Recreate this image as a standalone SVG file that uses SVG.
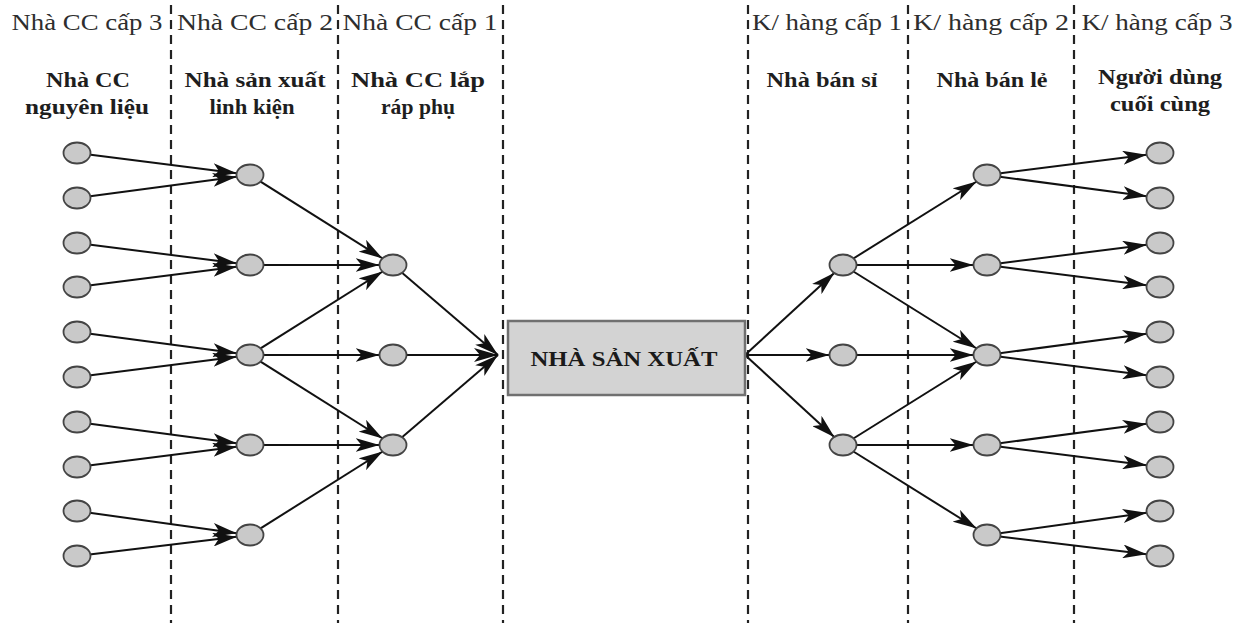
<svg xmlns="http://www.w3.org/2000/svg" width="1239" height="623" viewBox="0 0 1239 623">
<style>
.bg{fill:#ffffff}
.div{stroke:#222;stroke-width:2.2;stroke-dasharray:9 6;fill:none}
.hdr{font-family:"Liberation Serif","Times New Roman",serif;font-size:23px;fill:#2e2e2e;text-anchor:middle}
.sub{font-family:"Liberation Serif","Times New Roman",serif;font-size:21px;font-weight:bold;fill:#1e1e1e;text-anchor:middle}
.nd{fill:#c9c9c9;stroke:#444;stroke-width:1.8}
.box{fill:#d3d3d3;stroke:#707070;stroke-width:2.5}
.boxt{font-family:"Liberation Serif","Times New Roman",serif;font-size:22px;font-weight:bold;fill:#1a1a1a;text-anchor:middle}
.e{stroke:#111;stroke-width:2;fill:none;marker-end:url(#ah)}
</style>
<defs>
<marker id="ah" viewBox="0 0 24 14" refX="24" refY="7" markerWidth="24" markerHeight="14" markerUnits="userSpaceOnUse" orient="auto">
<path d="M0,0 L24,7 L0,14 L6,7 Z" fill="#111"/>
</marker>
</defs>
<rect class="bg" x="0" y="0" width="1239" height="623"/>
<g id="dividers">
<line class="div" x1="171" y1="5" x2="171" y2="623"/>
<line class="div" x1="338" y1="5" x2="338" y2="623"/>
<line class="div" x1="503" y1="5" x2="503" y2="623"/>
<line class="div" x1="748" y1="5" x2="748" y2="623"/>
<line class="div" x1="908" y1="5" x2="908" y2="623"/>
<line class="div" x1="1074" y1="5" x2="1074" y2="623"/>
</g>
<g id="headers">
<text class="hdr" x="87" y="30" textLength="151" lengthAdjust="spacingAndGlyphs">Nhà CC cấp 3</text>
<text class="hdr" x="255" y="30" textLength="156" lengthAdjust="spacingAndGlyphs">Nhà CC cấp 2</text>
<text class="hdr" x="420" y="30" textLength="155" lengthAdjust="spacingAndGlyphs">Nhà CC cấp 1</text>
<text class="hdr" x="827" y="30" textLength="150" lengthAdjust="spacingAndGlyphs">K/ hàng cấp 1</text>
<text class="hdr" x="991" y="30" textLength="156" lengthAdjust="spacingAndGlyphs">K/ hàng cấp 2</text>
<text class="hdr" x="1157" y="30" textLength="151" lengthAdjust="spacingAndGlyphs">K/ hàng cấp 3</text>
<text class="sub" x="88" y="87" textLength="84" lengthAdjust="spacingAndGlyphs">Nhà CC</text>
<text class="sub" x="87" y="114" textLength="124" lengthAdjust="spacingAndGlyphs">nguyên liệu</text>
<text class="sub" x="255" y="87" textLength="141" lengthAdjust="spacingAndGlyphs">Nhà sản xuất</text>
<text class="sub" x="252" y="114" textLength="85" lengthAdjust="spacingAndGlyphs">linh kiện</text>
<text class="sub" x="418" y="87" textLength="134" lengthAdjust="spacingAndGlyphs">Nhà CC lắp</text>
<text class="sub" x="418" y="114" textLength="74" lengthAdjust="spacingAndGlyphs">ráp phụ</text>
<text class="sub" x="822" y="87" textLength="111" lengthAdjust="spacingAndGlyphs">Nhà bán sỉ</text>
<text class="sub" x="992" y="87" textLength="111" lengthAdjust="spacingAndGlyphs">Nhà bán lẻ</text>
<text class="sub" x="1160" y="84" textLength="124" lengthAdjust="spacingAndGlyphs">Người dùng</text>
<text class="sub" x="1160" y="111" textLength="100" lengthAdjust="spacingAndGlyphs">cuối cùng</text>
</g>
<g id="connectors">
<line class="e" x1="77" y1="153" x2="236.7" y2="173.3"/>
<line class="e" x1="77" y1="198" x2="236.7" y2="176.7"/>
<line class="e" x1="77" y1="243" x2="236.7" y2="263.3"/>
<line class="e" x1="77" y1="287" x2="236.7" y2="266.7"/>
<line class="e" x1="77" y1="332" x2="236.7" y2="353.3"/>
<line class="e" x1="77" y1="377" x2="236.7" y2="356.7"/>
<line class="e" x1="77" y1="422" x2="236.7" y2="443.3"/>
<line class="e" x1="77" y1="467" x2="236.7" y2="446.7"/>
<line class="e" x1="77" y1="511" x2="236.7" y2="533.3"/>
<line class="e" x1="77" y1="556" x2="236.7" y2="536.7"/>
<line class="e" x1="250" y1="175" x2="382.7" y2="258.5"/>
<line class="e" x1="250" y1="265" x2="379.5" y2="265"/>
<line class="e" x1="250" y1="355" x2="382.7" y2="271.5"/>
<line class="e" x1="250" y1="355" x2="379.5" y2="355"/>
<line class="e" x1="250" y1="355" x2="382.7" y2="438.5"/>
<line class="e" x1="250" y1="445" x2="379.5" y2="445"/>
<line class="e" x1="250" y1="535" x2="382.7" y2="451.5"/>
<line class="e" x1="393" y1="265" x2="498" y2="355"/>
<line class="e" x1="393" y1="355" x2="498" y2="355"/>
<line class="e" x1="393" y1="445" x2="498" y2="355"/>
<line class="e" x1="745" y1="355" x2="834.5" y2="272.8"/>
<line class="e" x1="745" y1="355" x2="829.5" y2="355"/>
<line class="e" x1="745" y1="355" x2="834.5" y2="437.2"/>
<line class="e" x1="843" y1="265" x2="976.7" y2="181.5"/>
<line class="e" x1="843" y1="265" x2="973.5" y2="265"/>
<line class="e" x1="843" y1="265" x2="976.7" y2="348.5"/>
<line class="e" x1="843" y1="355" x2="973.5" y2="355"/>
<line class="e" x1="843" y1="445" x2="976.7" y2="361.5"/>
<line class="e" x1="843" y1="445" x2="973.5" y2="445"/>
<line class="e" x1="843" y1="445" x2="976.7" y2="528.5"/>
<line class="e" x1="987" y1="175" x2="1146.7" y2="154.7"/>
<line class="e" x1="987" y1="175" x2="1146.7" y2="196.3"/>
<line class="e" x1="987" y1="265" x2="1146.7" y2="244.7"/>
<line class="e" x1="987" y1="265" x2="1146.7" y2="285.3"/>
<line class="e" x1="987" y1="355" x2="1146.7" y2="333.7"/>
<line class="e" x1="987" y1="355" x2="1146.7" y2="375.3"/>
<line class="e" x1="987" y1="445" x2="1146.7" y2="423.7"/>
<line class="e" x1="987" y1="445" x2="1146.7" y2="465.3"/>
<line class="e" x1="987" y1="535" x2="1146.7" y2="512.7"/>
<line class="e" x1="987" y1="535" x2="1146.7" y2="554.3"/>
</g>
<g id="tier3-suppliers">
<ellipse class="nd" cx="77" cy="153" rx="13.5" ry="10.5"/>
<ellipse class="nd" cx="77" cy="198" rx="13.5" ry="10.5"/>
<ellipse class="nd" cx="77" cy="243" rx="13.5" ry="10.5"/>
<ellipse class="nd" cx="77" cy="287" rx="13.5" ry="10.5"/>
<ellipse class="nd" cx="77" cy="332" rx="13.5" ry="10.5"/>
<ellipse class="nd" cx="77" cy="377" rx="13.5" ry="10.5"/>
<ellipse class="nd" cx="77" cy="422" rx="13.5" ry="10.5"/>
<ellipse class="nd" cx="77" cy="467" rx="13.5" ry="10.5"/>
<ellipse class="nd" cx="77" cy="511" rx="13.5" ry="10.5"/>
<ellipse class="nd" cx="77" cy="556" rx="13.5" ry="10.5"/>
</g>
<g id="tier2-suppliers">
<ellipse class="nd" cx="250" cy="175" rx="13.5" ry="10.5"/>
<ellipse class="nd" cx="250" cy="265" rx="13.5" ry="10.5"/>
<ellipse class="nd" cx="250" cy="355" rx="13.5" ry="10.5"/>
<ellipse class="nd" cx="250" cy="445" rx="13.5" ry="10.5"/>
<ellipse class="nd" cx="250" cy="535" rx="13.5" ry="10.5"/>
</g>
<g id="tier1-suppliers">
<ellipse class="nd" cx="393" cy="265" rx="13.5" ry="10.5"/>
<ellipse class="nd" cx="393" cy="355" rx="13.5" ry="10.5"/>
<ellipse class="nd" cx="393" cy="445" rx="13.5" ry="10.5"/>
</g>
<g id="manufacturer">
<rect class="box" x="508" y="321" width="237" height="74"/>
<text class="boxt" x="624" y="366" textLength="187" lengthAdjust="spacingAndGlyphs">NHÀ SẢN XUẤT</text>
</g>
<g id="tier1-customers">
<ellipse class="nd" cx="843" cy="265" rx="13.5" ry="10.5"/>
<ellipse class="nd" cx="843" cy="355" rx="13.5" ry="10.5"/>
<ellipse class="nd" cx="843" cy="445" rx="13.5" ry="10.5"/>
</g>
<g id="tier2-customers">
<ellipse class="nd" cx="987" cy="175" rx="13.5" ry="10.5"/>
<ellipse class="nd" cx="987" cy="265" rx="13.5" ry="10.5"/>
<ellipse class="nd" cx="987" cy="355" rx="13.5" ry="10.5"/>
<ellipse class="nd" cx="987" cy="445" rx="13.5" ry="10.5"/>
<ellipse class="nd" cx="987" cy="535" rx="13.5" ry="10.5"/>
</g>
<g id="tier3-customers">
<ellipse class="nd" cx="1160" cy="153" rx="13.5" ry="10.5"/>
<ellipse class="nd" cx="1160" cy="198" rx="13.5" ry="10.5"/>
<ellipse class="nd" cx="1160" cy="243" rx="13.5" ry="10.5"/>
<ellipse class="nd" cx="1160" cy="287" rx="13.5" ry="10.5"/>
<ellipse class="nd" cx="1160" cy="332" rx="13.5" ry="10.5"/>
<ellipse class="nd" cx="1160" cy="377" rx="13.5" ry="10.5"/>
<ellipse class="nd" cx="1160" cy="422" rx="13.5" ry="10.5"/>
<ellipse class="nd" cx="1160" cy="467" rx="13.5" ry="10.5"/>
<ellipse class="nd" cx="1160" cy="511" rx="13.5" ry="10.5"/>
<ellipse class="nd" cx="1160" cy="556" rx="13.5" ry="10.5"/>
</g>
</svg>
